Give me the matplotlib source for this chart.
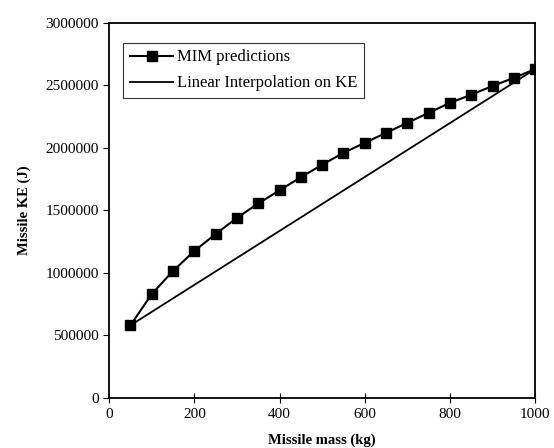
import matplotlib.pyplot as plt

plt.rcParams['font.family'] = ['Liberation Serif', 'DejaVu Serif']

# Massa do míssil (kg) e energia cinética prevista (J)
mass = [50, 100, 150, 200, 250, 300, 350, 400, 450, 500,
        550, 600, 650, 700, 750, 800, 850, 900, 950, 1000]
ke_mim = [580000, 830000, 1015000, 1175000, 1310000, 1440000, 1555000,
          1660000, 1765000, 1865000, 1960000, 2040000, 2120000, 2200000,
          2280000, 2360000, 2425000, 2495000, 2560000, 2630000]

# Interpolação linear entre os extremos
lin_mass = [50, 1000]
lin_ke = [580000, 2630000]

fig = plt.figure(figsize=(5.54, 4.48), dpi=100)
ax = fig.add_axes([0.197, 0.112, 0.769, 0.837])

ax.plot(mass, ke_mim, color='black', linewidth=1.5, marker='s',
        markersize=7.5, label='MIM predictions')
ax.plot(lin_mass, lin_ke, color='black', linewidth=1.3,
        label='Linear Interpolation on KE')

ax.set_xlim(0, 1000)
ax.set_ylim(0, 3000000)
ax.set_xticks([0, 200, 400, 600, 800, 1000])
ax.set_yticks([0, 500000, 1000000, 1500000, 2000000, 2500000, 3000000])
ax.ticklabel_format(style='plain', axis='y')
ax.tick_params(axis='y', direction='out', length=4, labelsize=11)
ax.tick_params(axis='x', direction='inout', length=7, labelsize=11)

ax.set_xlabel('Missile mass (kg)', fontsize=10.5, fontweight='bold', labelpad=9)
ax.set_ylabel('Missile KE (J)', fontsize=10.5, fontweight='bold', labelpad=10)

for s in ax.spines.values():
    s.set_linewidth(1.3)

leg = ax.legend(loc='upper left', bbox_to_anchor=(0.033, 0.947), fontsize=12,
                frameon=True, fancybox=False, edgecolor='black',
                handlelength=2.6, handletextpad=0.2, borderpad=0.4,
                labelspacing=0.6, borderaxespad=0)
leg.get_frame().set_linewidth(0.8)

fig.savefig('out.png', dpi=100)
